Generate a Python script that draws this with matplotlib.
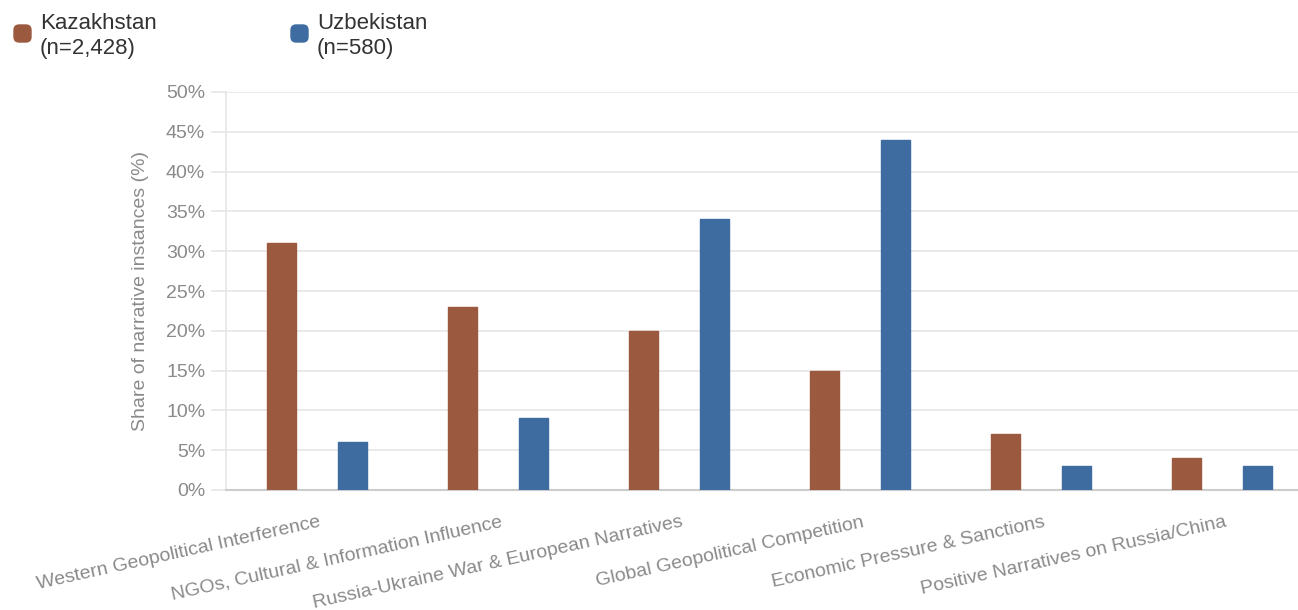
import matplotlib.pyplot as plt
import matplotlib.transforms as mtransforms
from matplotlib.patches import FancyBboxPatch
import numpy as np

categories = ['Western Geopolitical Interference',
              'NGOs, Cultural & Information Influence',
              'Russia-Ukraine War & European Narratives',
              'Global Geopolitical Competition',
              'Economic Pressure & Sanctions',
              'Positive Narratives on Russia/China']
kazakhstan = [31, 23, 20, 15, 7, 4]
uzbekistan = [6, 9, 34, 44, 3, 3]
series_labels = ['Kazakhstan\n(n=2,428)', 'Uzbekistan\n(n=580)']
yticks = [0, 5, 10, 15, 20, 25, 30, 35, 40, 45, 50]

KAZ_COLOR = '#9b5940'
UZB_COLOR = '#3e6ca1'
GRID = '#e6e6e6'
TEXT_GRAY = '#8a8a8a'

plt.rcParams['font.family'] = ['Liberation Sans', 'DejaVu Sans']

W, H = 1298, 610
fig = plt.figure(figsize=(W/100, H/100), dpi=100)
# plot area runs past the right edge of the canvas
ax = fig.add_axes([226/W, 120/H, 1087/W, 398/H])

x = np.arange(len(categories))
w = 0.16
ax.bar(x - 0.196, kazakhstan, w, color=KAZ_COLOR, edgecolor=KAZ_COLOR,
       linewidth=1, joinstyle='round', zorder=3)
ax.bar(x + 0.196, uzbekistan, w, color=UZB_COLOR, edgecolor=UZB_COLOR,
       linewidth=1, joinstyle='round', zorder=3)

ax.set_xlim(-0.5, len(categories) - 0.5)
ax.set_ylim(0, 50)
ax.set_yticks(yticks)
ax.set_yticklabels([f'{v}%' for v in yticks], color=TEXT_GRAY, fontsize=14)
ax.yaxis.grid(True, color=GRID, linewidth=1.2, zorder=0)
ax.tick_params(axis='y', length=11, color=GRID, width=1.2, pad=4)

ax.set_xticks(x)
ax.set_xticklabels(categories, rotation=12.5, ha='right', rotation_mode='anchor',
                   color=TEXT_GRAY, fontsize=14)
ax.tick_params(axis='x', length=0, pad=17)
shift = mtransforms.ScaledTranslation(1.5/72, 0, fig.dpi_scale_trans)
for lbl in ax.get_xticklabels():
    lbl.set_transform(lbl.get_transform() + shift)

for s in ['top', 'right']:
    ax.spines[s].set_visible(False)
ax.spines['left'].set_color(GRID)
ax.spines['left'].set_linewidth(1.2)
ax.spines['bottom'].set_color('#cccccc')
ax.spines['bottom'].set_linewidth(1.5)

ax.set_ylabel('Share of narrative instances (%)', color=TEXT_GRAY, fontsize=14)
ax.yaxis.set_label_coords(-0.071, 0.5)

# legend: rounded swatches with two-line labels across the top left
for px, color, label in [(14, KAZ_COLOR, series_labels[0]),
                         (291, UZB_COLOR, series_labels[1])]:
    fig.patches.append(FancyBboxPatch((px/W, 1 - 42/H), 17/W, 17/H,
                                      boxstyle='round,pad=0,rounding_size=0.004',
                                      transform=fig.transFigure, color=color,
                                      mutation_aspect=W/H))
    fig.text((px + 26)/W, 1 - 36/H, label, color='#333333', fontsize=16,
             va='center', ha='left', linespacing=1.2)

fig.savefig('out.png', dpi=100, facecolor='white')
